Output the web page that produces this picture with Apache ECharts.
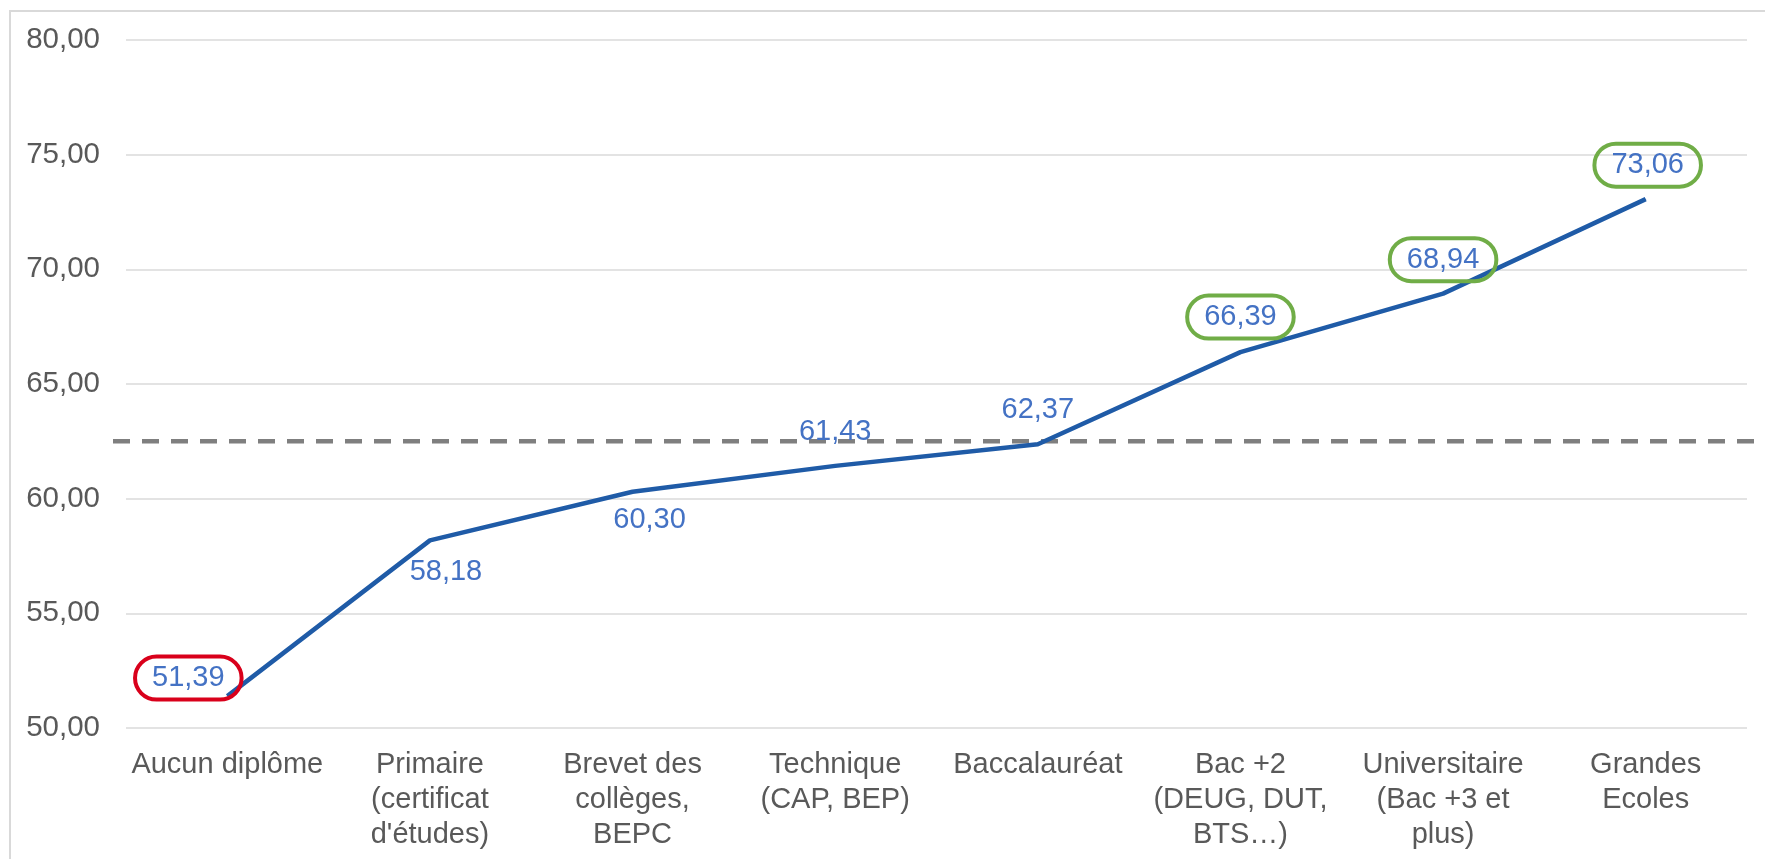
<!DOCTYPE html>
<html>
<head>
<meta charset="utf-8">
<script src="https://cdn.jsdelivr.net/npm/echarts@6/dist/echarts.min.js"></script>
<style>
  html, body { margin: 0; padding: 0; background: #ffffff; overflow: hidden; }
  #chart { position: absolute; left: 0; top: 0; width: 1765px; height: 859px; }
  #frame { position: absolute; left: 9px; top: 10px; width: 1800px; height: 900px;
           border: 2px solid #d9d9d9; pointer-events: none; box-sizing: border-box; }
</style>
</head>
<body>
<div id="chart"></div>
<div id="frame"></div>
<script>
// ---- data ----
const categories = [
  "Aucun diplôme",
  "Primaire\n(certificat\nd'études)",
  "Brevet des\ncollèges,\nBEPC",
  "Technique\n(CAP, BEP)",
  "Baccalauréat",
  "Bac +2\n(DEUG, DUT,\nBTS…)",
  "Universitaire\n(Bac +3 et\nplus)",
  "Grandes\nEcoles"
];
const values = [51.39, 58.18, 60.30, 61.43, 62.37, 66.39, 68.94, 73.06];
const referenceLevel = 62.5;
const yTicks = { min: 50, max: 80, interval: 5 };

// ---- presentation ----
const fontFamily = "'Liberation Sans', Arial, sans-serif";
const labelOffsets = [[-39, -18], [16, 32], [17, 28], [0, -34], [0, -34], [0, -35], [0, -34], [2, -34]];
const circleColors = ['#D9001B', null, null, null, null, '#70AD47', '#70AD47', '#70AD47'];

const fmt = v => v.toFixed(2).replace('.', ',');

const lineData = values.map((v, i) => {
  const label = {
    show: true,
    position: 'inside',
    color: '#4472C4',
    fontSize: 29,
    fontFamily: fontFamily,
    lineHeight: 33,
    formatter: p => fmt(p.value)
  };
  if (circleColors[i]) {
    Object.assign(label, {
      borderColor: circleColors[i],
      borderWidth: 4,
      borderRadius: 24,
      padding: [5, 17]
    });
  }
  return { value: v, label: label };
});

const chart = echarts.init(document.getElementById('chart'), null, { renderer: 'canvas' });
chart.setOption({
  animation: false,
  backgroundColor: '#ffffff',
  grid: [
    { left: 126, right: 18, top: 40, bottom: 131 },
    { left: 113, right: 0, top: 40, bottom: 131 }
  ],
  xAxis: [
    {
      type: 'category', gridIndex: 0, data: categories, boundaryGap: true,
      axisLine: { show: false }, axisTick: { show: false },
      axisLabel: { interval: 0, margin: 19, color: '#595959', fontSize: 29,
                   fontFamily: fontFamily, lineHeight: 35, align: 'center' }
    },
    { type: 'value', gridIndex: 1, min: 0, max: 1, show: false }
  ],
  yAxis: [
    {
      type: 'value', gridIndex: 0, min: yTicks.min, max: yTicks.max, interval: yTicks.interval,
      axisLine: { show: false }, axisTick: { show: false },
      splitLine: { show: true, lineStyle: { color: '#e3e3e3', width: 2 } },
      axisLabel: { margin: 26, color: '#595959', fontSize: 29.5, fontFamily: fontFamily,
                   formatter: v => fmt(v) }
    },
    { type: 'value', gridIndex: 1, min: yTicks.min, max: yTicks.max, show: false }
  ],
  series: [
    {
      type: 'line', xAxisIndex: 1, yAxisIndex: 1, z: 1,
      data: [[0, referenceLevel], [1, referenceLevel]],
      symbol: 'none',
      lineStyle: { color: '#7f7f7f', width: 4.5, type: [17, 12] },
      silent: true
    },
    {
      type: 'line', xAxisIndex: 0, yAxisIndex: 0, z: 3,
      data: lineData,
      symbol: 'circle', symbolSize: 1, showSymbol: true,
      itemStyle: { color: '#1F5BA7' },
      lineStyle: { color: '#1F5BA7', width: 4.5 },
      labelLayout: p => ({
        dx: labelOffsets[p.dataIndex][0],
        dy: labelOffsets[p.dataIndex][1],
        hideOverlap: false
      })
    }
  ]
});
</script>
</body>
</html>
